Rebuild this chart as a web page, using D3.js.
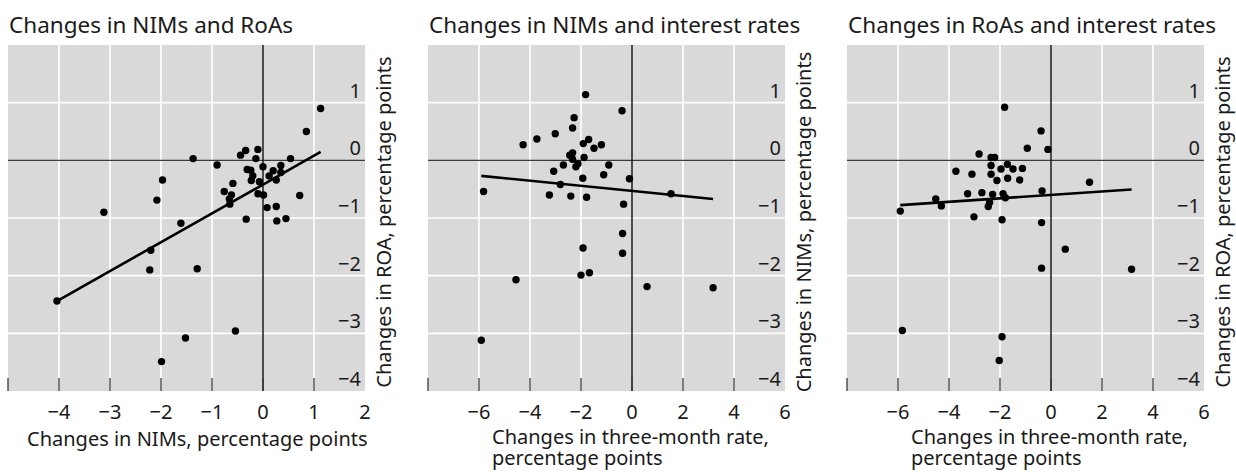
<!DOCTYPE html>
<html>
<head>
<meta charset="utf-8">
<script src="https://cdn.jsdelivr.net/npm/d3@7"></script>
<style>
  html, body { margin: 0; padding: 0; background: #ffffff; }
  svg { display: block; }
  text { font-family: "Segoe UI", "Noto Sans", "Open Sans", sans-serif; fill: #1a1a1a; }
</style>
</head>
<body>
<svg id="chart" width="1236" height="472"></svg>
<script>
// Panel 1: change in net interest margin (x) vs change in return on assets (y)
const nimChangeA = [1.13, 0.85, 0.54, -1.37, -0.90, -1.97, -2.08, -3.12, -1.61, -2.20, -2.22, -1.29, -4.04, -1.52, -0.54, -1.99,
  -0.33, 0.72, 0.27, 0.45, 0.26, 0.08, -0.44, -0.34, -0.10, -0.14, 0.00, 0.35, -0.31, -0.24, 0.20, 0.35, 0.12, -0.20,
  0.26, -0.23, -0.59, -0.07, -0.76, -0.10, 0.01, -0.62, -0.66, -0.65];
const roaChangeA = [0.90, 0.50, 0.03, 0.03, -0.08, -0.34, -0.69, -0.90, -1.09, -1.56, -1.90, -1.88, -2.44, -3.08, -2.96, -3.49,
  -1.02, -0.61, -1.05, -1.01, -0.80, -0.82, 0.09, 0.17, 0.19, 0.03, -0.11, -0.09, -0.16, -0.17, -0.18, -0.21, -0.27, -0.27,
  -0.34, -0.35, -0.40, -0.37, -0.54, -0.58, -0.60, -0.60, -0.67, -0.76];

// Panel 2: change in three-month rate (x) vs change in net interest margin (y)
const rateChangeB = [-1.82, -0.39, -2.27, -2.33, -3.01, -3.73, -4.27, -1.91, -1.70, -1.49, -1.20, -2.44, -2.33, -2.33, -1.88,
  -2.12, -2.20, -2.69, -3.07, -0.91, -1.11, -1.93, -0.10, -2.81, -5.82, -3.24, -2.40, -1.78, 1.53, -0.33, -0.37, -1.92,
  -0.37, -2.00, -1.67, -4.55, 0.59, 3.18, -5.91];
const nimChangeB = [1.14, 0.86, 0.74, 0.56, 0.46, 0.37, 0.27, 0.29, 0.36, 0.21, 0.27, 0.09, 0.13, 0.02, 0.05,
  -0.06, -0.11, -0.08, -0.19, -0.08, -0.25, -0.31, -0.32, -0.42, -0.54, -0.60, -0.62, -0.64, -0.58, -0.76, -1.27, -1.52,
  -1.61, -1.99, -1.95, -2.07, -2.19, -2.21, -3.12];

// Panel 3: change in three-month rate (x) vs change in return on assets (y)
const rateChangeC = [-1.82, -0.39, -0.93, -0.12, -2.82, -2.35, -2.21, -3.73, -3.10, -2.35, -2.35, -1.96, -1.71, -1.49, -1.12,
  -2.12, -1.70, -1.23, 1.51, -3.27, -2.71, -2.29, -1.88, -1.79, -0.35, -4.52, -4.30, -5.91, -2.41, -2.46, -3.02, -1.92,
  -0.37, 0.56, -0.37, 3.16, -5.83, -1.92, -2.03];
const roaChangeC = [0.92, 0.51, 0.21, 0.19, 0.11, 0.05, 0.05, -0.19, -0.24, -0.09, -0.24, -0.15, -0.07, -0.15, -0.14,
  -0.35, -0.31, -0.34, -0.38, -0.58, -0.56, -0.59, -0.58, -0.65, -0.53, -0.67, -0.79, -0.88, -0.73, -0.80, -0.98, -1.03,
  -1.08, -1.54, -1.87, -1.89, -2.95, -3.06, -3.47];

// Fitted linear trends, one per panel
const trendSlope = [0.50, -0.044, 0.030];
const trendIntercept = [-0.42, -0.53, -0.60];

// Titles and axis text
const panelTitles = ["Changes in NIMs and RoAs", "Changes in NIMs and interest rates", "Changes in RoAs and interest rates"];
const xAxisTitles = [["Changes in NIMs, percentage points"],
  ["Changes in three-month rate,", "percentage points"],
  ["Changes in three-month rate,", "percentage points"]];
const yAxisTitles = ["Changes in ROA, percentage points", "Changes in NIMs, percentage points", "Changes in ROA, percentage points"];

// Axis ranges and tick values
const xDomains = [[-5, 2], [-8, 6], [-8, 6]];
const xTickMarks = [[-5, -4, -3, -2, -1, 0, 1], [-8, -6, -4, -2, 0, 2, 4], [-8, -6, -4, -2, 0, 2, 4]];
const xTickLabels = [[-4, -3, -2, -1, 0, 1, 2], [-6, -4, -2, 0, 2, 4, 6], [-6, -4, -2, 0, 2, 4, 6]];
const yDomain = [-4, 2];
const yGridValues = [1, -1, -2, -3];
const yTickLabels = [1, 0, -1, -2, -3, -4];

const panels = [
  { xs: nimChangeA, ys: roaChangeA, left: 8 },
  { xs: rateChangeB, ys: nimChangeB, left: 428 },
  { xs: rateChangeC, ys: roaChangeC, left: 847 }
];

const plotW = 357, plotTop = 45, plotBottom = 391;
const svg = d3.select("#chart");

panels.forEach((p, i) => {
  const x = d3.scaleLinear().domain(xDomains[i]).range([p.left, p.left + plotW]);
  const y = d3.scaleLinear().domain(yDomain).range([plotBottom, plotTop]);
  const g = svg.append("g");

  // plot background
  g.append("rect")
    .attr("x", x.range()[0]).attr("y", plotTop)
    .attr("width", plotW).attr("height", plotBottom - plotTop)
    .attr("fill", "#d9d9d9");

  // white grid
  g.selectAll(".vgrid").data(xTickLabels[i].filter(v => v !== 0 && v < xDomains[i][1]))
    .join("line")
    .attr("x1", d => x(d)).attr("x2", d => x(d))
    .attr("y1", plotTop).attr("y2", plotBottom)
    .attr("stroke", "#ffffff").attr("stroke-width", 1.6);
  g.selectAll(".hgrid").data(yGridValues)
    .join("line")
    .attr("x1", x.range()[0]).attr("x2", x.range()[1])
    .attr("y1", d => y(d)).attr("y2", d => y(d))
    .attr("stroke", "#ffffff").attr("stroke-width", 1.6);

  // zero lines
  g.append("line")
    .attr("x1", x.range()[0]).attr("x2", x.range()[1])
    .attr("y1", y(0)).attr("y2", y(0))
    .attr("stroke", "#3a3a3a").attr("stroke-width", 1.4);
  g.append("line")
    .attr("x1", x(0)).attr("x2", x(0))
    .attr("y1", plotTop).attr("y2", plotBottom)
    .attr("stroke", "#111111").attr("stroke-width", 1.4);

  // tick marks along the inside of the bottom edge
  g.selectAll(".tick").data(xTickMarks[i])
    .join("line")
    .attr("x1", d => x(d)).attr("x2", d => x(d))
    .attr("y1", plotBottom - 13).attr("y2", plotBottom)
    .attr("stroke", "#3a3a3a").attr("stroke-width", 1.3);

  // x tick labels
  g.selectAll(".xlab").data(xTickLabels[i])
    .join("text")
    .attr("x", d => x(d)).attr("y", 419)
    .attr("text-anchor", "middle")
    .attr("font-size", 20)
    .text(d => d3.format("")(d));

  // y tick labels, right-aligned inside the plot, above each line
  g.selectAll(".ylab").data(yTickLabels)
    .join("text")
    .attr("x", x.range()[1] - 4).attr("y", d => y(d) - 5)
    .attr("text-anchor", "end")
    .attr("font-size", 20)
    .text(d => d3.format("")(d));

  // trend line across the observed range
  const [xmin, xmax] = d3.extent(p.xs);
  const line = d3.line().x(d => x(d)).y(d => y(trendIntercept[i] + trendSlope[i] * d));
  g.append("path")
    .attr("d", line([xmin, xmax]))
    .attr("fill", "none").attr("stroke", "#000000").attr("stroke-width", 2.6);

  // scatter points
  g.selectAll(".pt").data(p.xs.map((v, k) => [v, p.ys[k]]))
    .join("circle")
    .attr("cx", d => x(d[0])).attr("cy", d => y(d[1]))
    .attr("r", 3.7).attr("fill", "#000000");

  // panel title
  g.append("text")
    .attr("x", p.left + 1).attr("y", 33)
    .attr("font-size", 22.5)
    .text(panelTitles[i]);

  // x-axis title
  const xt = g.append("text").attr("font-size", 20);
  if (xAxisTitles[i].length === 1) {
    xt.attr("x", p.left + 19).attr("y", 446).text(xAxisTitles[i][0]);
  } else {
    xAxisTitles[i].forEach((s, k) => {
      xt.append("tspan").attr("x", p.left + 64).attr("y", 444 + k * 21).text(s);
    });
  }

  // y-axis title, rotated, on the right of the plot
  const yx = p.left + plotW + 26, yy = 222;
  g.append("text")
    .attr("transform", `translate(${yx},${yy}) rotate(-90)`)
    .attr("text-anchor", "middle")
    .attr("font-size", 20)
    .text(yAxisTitles[i]);
});
</script>
</body>
</html>
